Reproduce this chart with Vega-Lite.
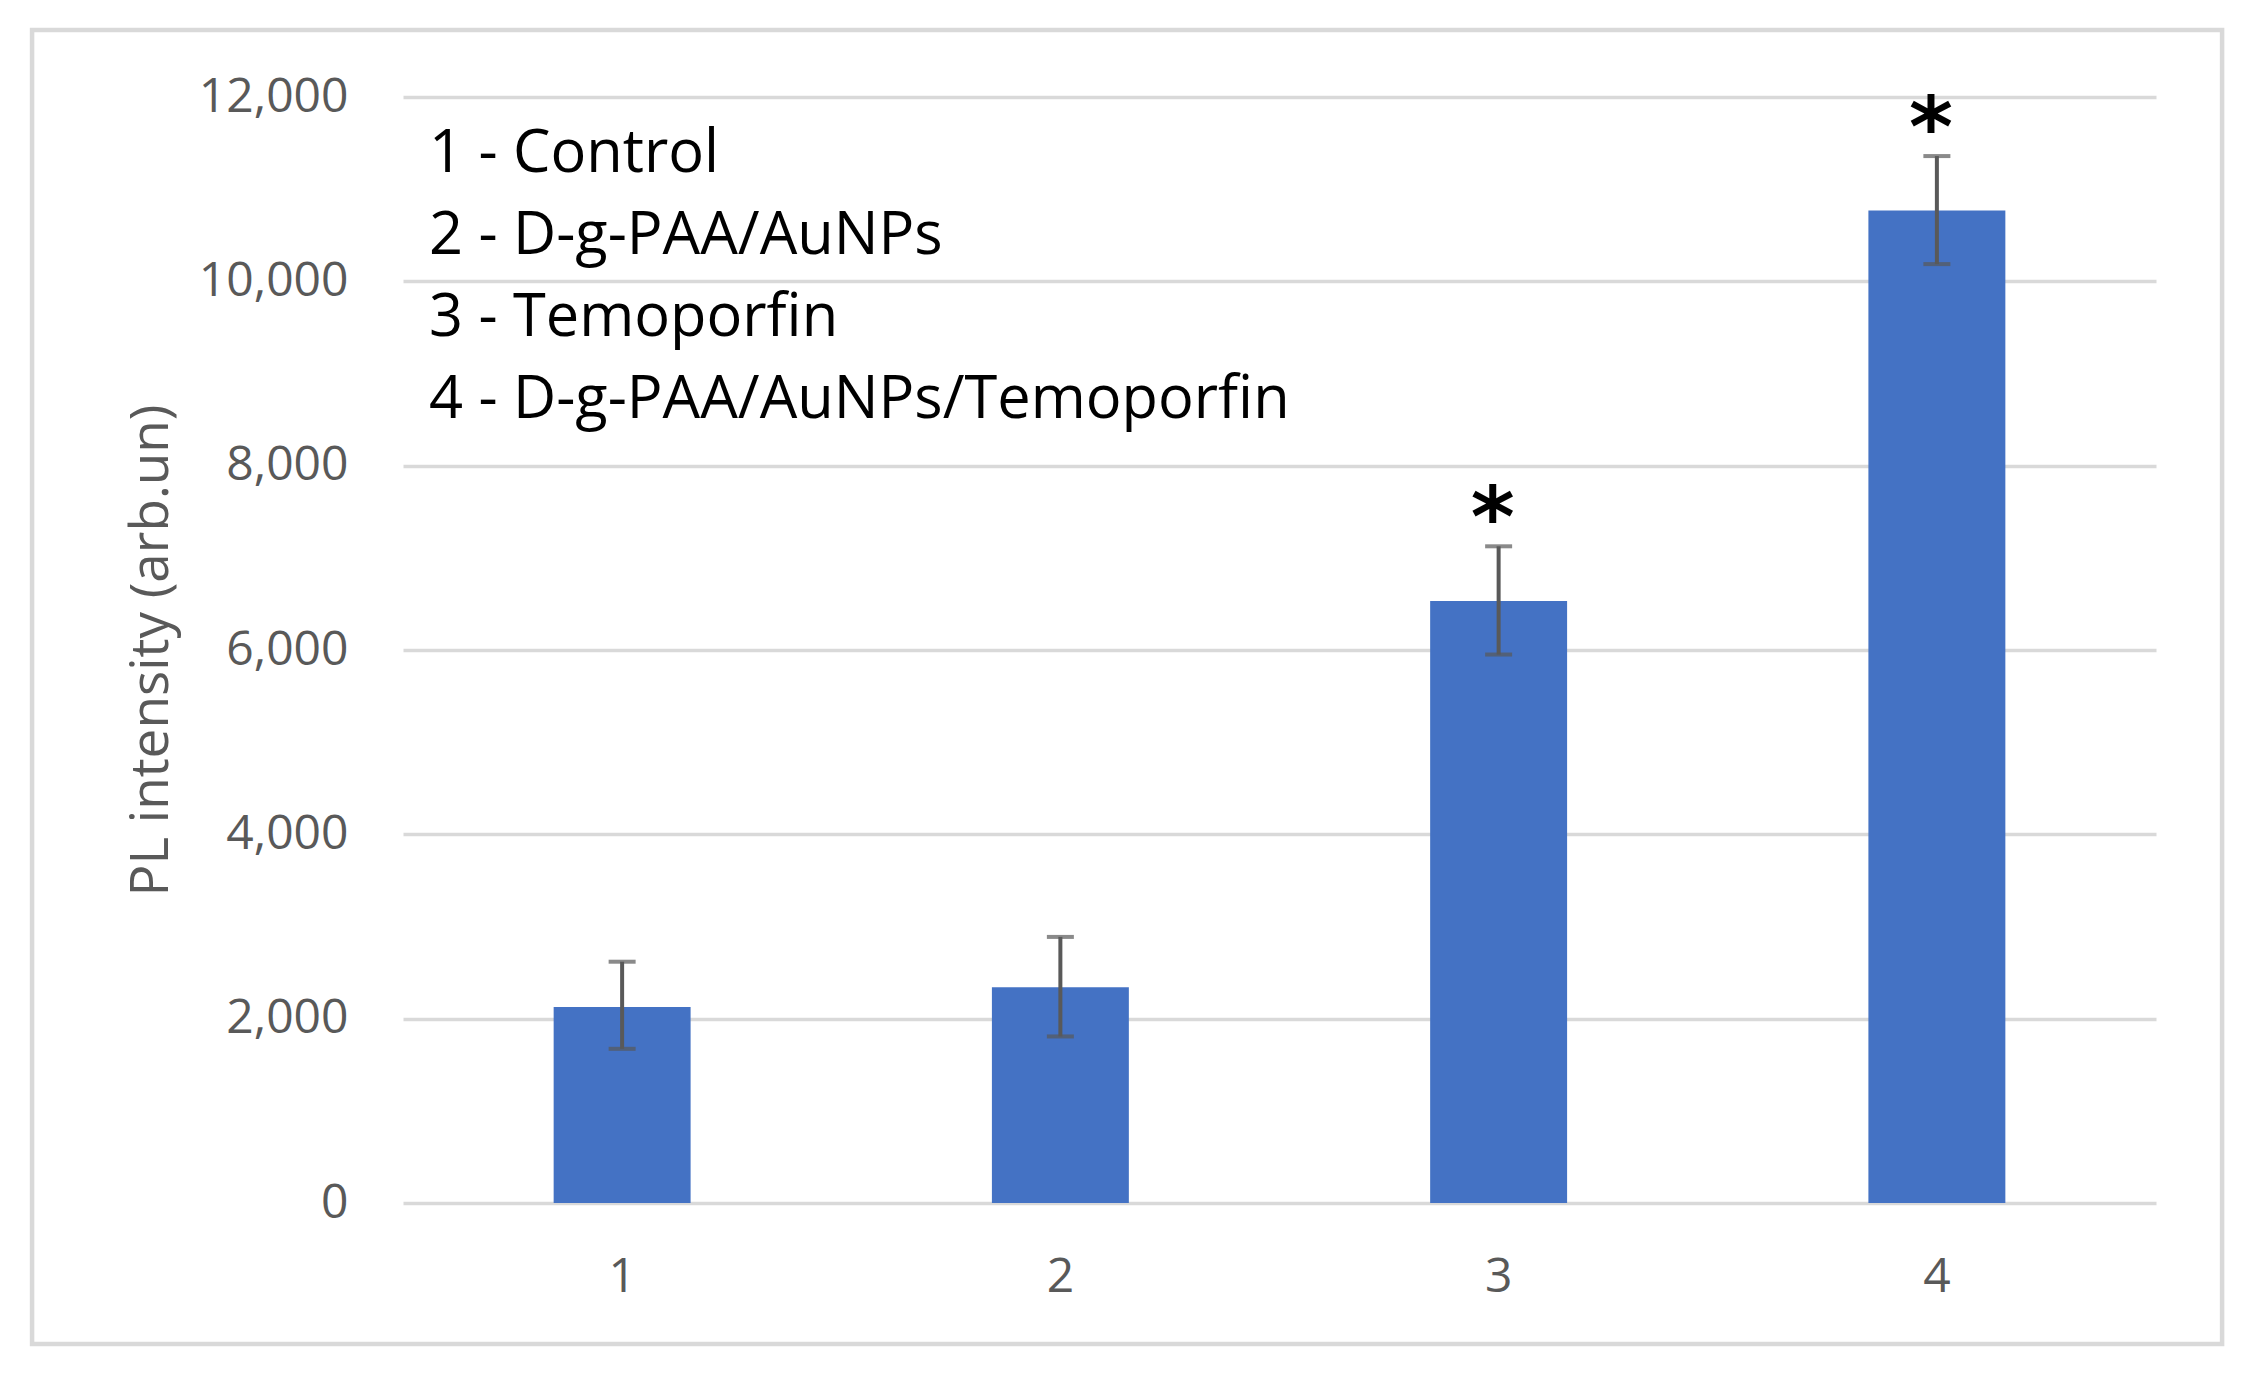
{
  "$schema": "https://vega.github.io/schema/vega-lite/v6.json",
  "width": 1753,
  "height": 1106,
  "autosize": {"type": "none"},
  "padding": {"left": 403, "top": 97, "right": 92, "bottom": 173},
  "background": "white",
  "config": {
    "view": {"stroke": null},
    "font": "Open Sans",
    "axisY": {
      "titleFont": "Open Sans", "titleFontSize": 53, "titleFontWeight": "normal", "titleColor": "#595959", "titlePadding": 25,
      "labelFont": "Open Sans", "labelFontSize": 48, "labelColor": "#595959", "labelPadding": 55,
      "ticks": false, "tickSize": 0, "domain": false,
      "gridColor": "#d9d9d9", "gridWidth": 3.5
    }
  },
  "datasets": {
    "pl": [
      {"group": "1", "value": 2127, "lo": 1673, "hi": 2618, "sig": ""},
      {"group": "2", "value": 2340, "lo": 1807, "hi": 2887, "sig": ""},
      {"group": "3", "value": 6532, "lo": 5951, "hi": 7125, "sig": "*"},
      {"group": "4", "value": 10768, "lo": 10187, "hi": 11359, "sig": "*"}
    ]
  },
  "layer": [
    {
      "data": {"name": "pl"},
      "layer": [
        {
          "mark": {"type": "bar", "color": "#4472c4"},
          "encoding": {
            "x": {
              "field": "group", "type": "nominal", "sort": null,
              "scale": {"paddingInner": 0.6875, "paddingOuter": 0.34375},
              "axis": {"title": null, "labelAngle": 0, "labelFont": "Open Sans", "labelFontSize": 48, "labelColor": "#595959", "labelPadding": 50, "domain": false, "ticks": false, "grid": false}
            },
            "y": {
              "field": "value", "type": "quantitative", "title": "PL intensity (arb.un)",
              "scale": {"domain": [0, 12000], "nice": false},
              "axis": {"values": [0, 2000, 4000, 6000, 8000, 10000, 12000], "format": ",.0f", "titlePadding": 25, "labelPadding": 55}
            }
          }
        },
        {
          "mark": {"type": "errorbar", "color": "#595959", "thickness": 4, "size": 27, "ticks": true},
          "encoding": {
            "x": {"field": "group", "type": "nominal", "sort": null},
            "y": {"field": "lo", "type": "quantitative", "title": "PL intensity (arb.un)", "scale": {"domain": [0, 12000], "nice": false}},
            "y2": {"field": "hi"}
          }
        },
        {
          "mark": {"type": "text", "font": "DejaVu Sans", "fontWeight": "bold", "fontSize": 84, "baseline": "alphabetic", "dx": -6, "color": "black"},
          "encoding": {
            "x": {"field": "group", "type": "nominal", "sort": null},
            "y": {"field": "hi", "type": "quantitative", "title": "PL intensity (arb.un)", "scale": {"domain": [0, 12000], "nice": false}},
            "text": {"field": "sig"}
          }
        }
      ]
    },
    {
      "data": {"values": [{}]},
      "mark": {"type": "rect", "fillOpacity": 0, "stroke": "#d9d9d9", "strokeWidth": 4.5},
      "encoding": {
        "x": {"datum": -0.2116, "type": "quantitative", "scale": {"domain": [0, 1]}, "axis": null},
        "x2": {"datum": 1.0377},
        "y": {"datum": 12727, "type": "quantitative", "title": "PL intensity (arb.un)", "scale": {"domain": [0, 12000], "nice": false}},
        "y2": {"datum": -1530}
      }
    },
    {
      "data": {"values": [{}]},
      "mark": {
        "type": "text", "align": "left", "baseline": "middle", "font": "Open Sans", "fontSize": 59.5, "lineHeight": 82, "color": "black",
        "text": ["1 - Control", "2 - D-g-PAA/AuNPs", "3 - Temoporfin", "4 - D-g-PAA/AuNPs/Temoporfin"]
      },
      "encoding": {
        "x": {"datum": 0.0148, "type": "quantitative", "scale": {"domain": [0, 1]}, "axis": null},
        "y": {"datum": 11380, "type": "quantitative", "title": "PL intensity (arb.un)", "scale": {"domain": [0, 12000], "nice": false}}
      }
    }
  ],
  "resolve": {"scale": {"x": "independent"}, "axis": {"x": "independent"}}
}
